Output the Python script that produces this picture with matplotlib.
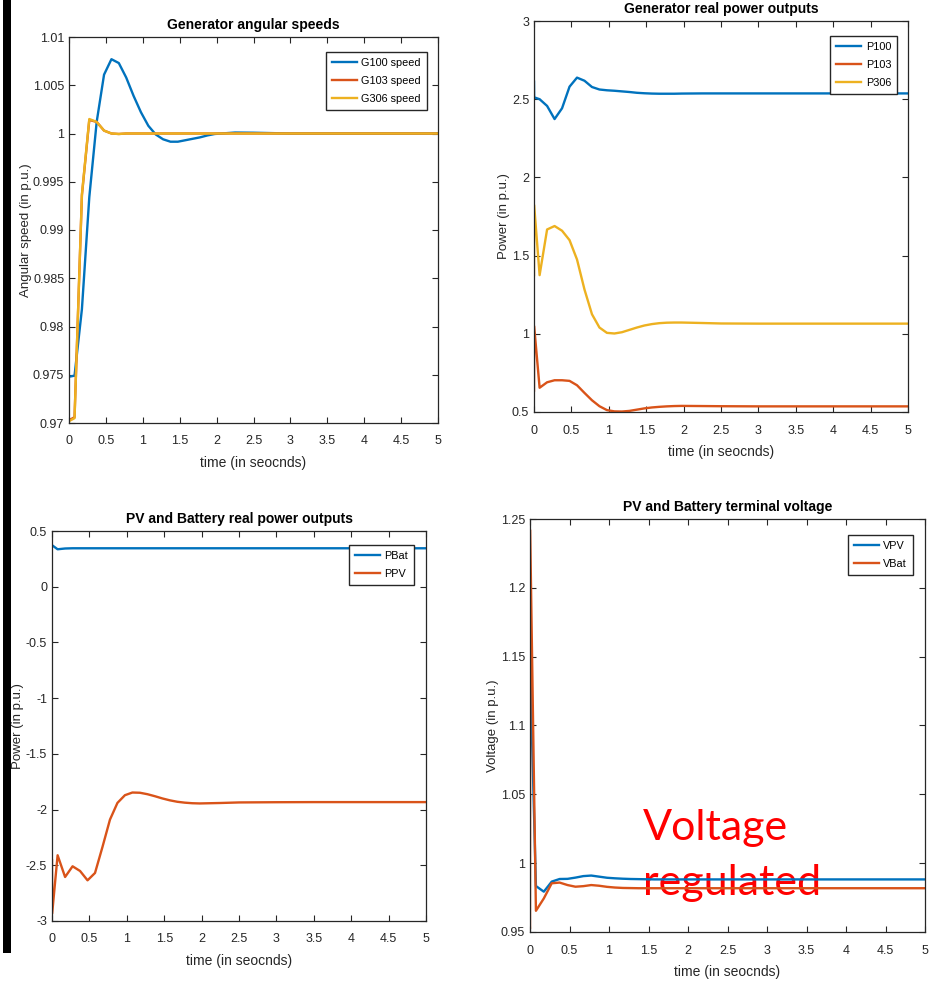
import matplotlib
matplotlib.use("Agg")
import matplotlib.pyplot as plt
from matplotlib.patches import Rectangle

# ---- data -------------------------------------------------------------
t = [0.0, 0.002, 0.075, 0.175, 0.275, 0.375, 0.475, 0.575, 0.675, 0.775,
     0.875, 0.975, 1.075, 1.175, 1.275, 1.375, 1.475, 1.575, 1.675, 1.775,
     1.875, 1.975, 2.25, 2.5, 3.0, 3.5, 4.0, 4.5, 5.0]

g100_speed = [0.9748, 0.9748, 0.9749, 0.9818, 0.9934, 1.0012, 1.0061, 1.0077,
              1.0073, 1.0058, 1.0039, 1.0022, 1.0008, 0.9999, 0.9994, 0.99915,
              0.99915, 0.9993, 0.99945, 0.9996, 0.9998, 0.99995, 1.0001,
              1.00008, 1.0, 1.0, 1.0, 1.0, 1.0]
g103_speed = [0.9703, 0.9703, 0.9706, 0.9936, 1.0014, 1.0012, 1.0003, 1.0,
              0.99995, 1.0, 1.0, 1.0, 1.0, 1.0, 1.0, 1.0, 1.0, 1.0, 1.0, 1.0,
              1.0, 1.0, 1.0, 1.0, 1.0, 1.0, 1.0, 1.0, 1.0]
g306_speed = [0.9702, 0.9702, 0.9705, 0.9937, 1.0015, 1.0012, 1.0003, 1.0,
              0.99995, 1.0, 1.0, 1.0, 1.0, 1.0, 1.0, 1.0, 1.0, 1.0, 1.0, 1.0,
              1.0, 1.0, 1.0, 1.0, 1.0, 1.0, 1.0, 1.0, 1.0]

p100 = [2.612, 2.512, 2.500, 2.457, 2.373, 2.442, 2.580, 2.638, 2.618, 2.578,
        2.562, 2.557, 2.554, 2.550, 2.546, 2.541, 2.538, 2.536, 2.535, 2.535,
        2.535, 2.536, 2.537, 2.537, 2.537, 2.537, 2.537, 2.537, 2.537]
p103 = [0.637, 1.049, 0.655, 0.690, 0.703, 0.703, 0.699, 0.671, 0.622, 0.575,
        0.537, 0.512, 0.504, 0.503, 0.507, 0.515, 0.523, 0.529, 0.533, 0.536,
        0.538, 0.539, 0.538, 0.537, 0.536, 0.536, 0.536, 0.536, 0.536]
p306 = [1.375, 1.823, 1.375, 1.667, 1.689, 1.659, 1.599, 1.475, 1.283, 1.125,
        1.040, 1.006, 1.002, 1.010, 1.025, 1.040, 1.053, 1.062, 1.068, 1.071,
        1.072, 1.072, 1.069, 1.066, 1.065, 1.065, 1.065, 1.065, 1.065]

p_bat = [0.372, 0.372, 0.336, 0.343, 0.345, 0.345, 0.345, 0.345, 0.345, 0.345,
         0.345, 0.345, 0.345, 0.345, 0.345, 0.345, 0.345, 0.345, 0.345, 0.345,
         0.345, 0.345, 0.345, 0.345, 0.345, 0.345, 0.345, 0.345, 0.345]
p_pv = [-2.455, -2.934, -2.410, -2.605, -2.509, -2.551, -2.635, -2.569, -2.335,
        -2.090, -1.940, -1.871, -1.847, -1.849, -1.862, -1.880, -1.900, -1.917,
        -1.930, -1.938, -1.943, -1.945, -1.941, -1.936, -1.934, -1.933, -1.933,
        -1.933, -1.933]

v_pv = [1.143, 1.143, 0.9834, 0.9793, 0.9866, 0.9885, 0.9886, 0.9895, 0.9906,
        0.9910, 0.9902, 0.9894, 0.9890, 0.9887, 0.9885, 0.9884, 0.9883, 0.9882,
        0.9882, 0.9882, 0.9882, 0.9882, 0.9882, 0.9882, 0.9882, 0.9882, 0.9882,
        0.9882, 0.9882]
v_bat = [0.953, 1.242, 0.9654, 0.9744, 0.9854, 0.9859, 0.9841, 0.9829, 0.9833,
         0.9841, 0.9836, 0.9828, 0.9823, 0.9820, 0.9819, 0.9818, 0.9818, 0.9818,
         0.9818, 0.9818, 0.9818, 0.9818, 0.9818, 0.9818, 0.9818, 0.9818, 0.9818,
         0.9818, 0.9818]

x_ticks = [0, 0.5, 1, 1.5, 2, 2.5, 3, 3.5, 4, 4.5, 5]
x_tick_labels = ["0", "0.5", "1", "1.5", "2", "2.5", "3", "3.5", "4", "4.5", "5"]

# ---- styling -------------------------------------------------------------
BLUE, ORANGE, YELLOW = "#0072BD", "#D95319", "#EDB120"
DARK = "#262626"
plt.rcParams["font.family"] = ["Liberation Sans", "DejaVu Sans"]
plt.rcParams["axes.linewidth"] = 0.9
plt.rcParams["axes.edgecolor"] = DARK

W, H = 932, 983
fig = plt.figure(figsize=(W / 100, H / 100), dpi=100)


def make_axes(left, top, right, bottom):
    return fig.add_axes([left / W, 1 - bottom / H, (right - left) / W,
                         (bottom - top) / H])


def style(ax, title, ylabel, yticks, ylabels, ylim, leg_anchor, ylab_x):
    ax.set_xlim(0, 5)
    ax.set_ylim(*ylim)
    ax.set_xticks(x_ticks)
    ax.set_xticklabels(x_tick_labels)
    ax.set_yticks(yticks)
    ax.set_yticklabels(ylabels)
    ax.tick_params(direction="in", length=4, width=0.8, top=True, right=True,
                   labelsize=9, colors=DARK)
    ax.tick_params(axis="x", pad=9)
    ax.tick_params(axis="y", pad=3.5)
    ax.set_title(title, fontsize=10, fontweight="bold", color="black", pad=6)
    ax.set_xlabel("time (in seocnds)", fontsize=10, color=DARK, labelpad=6)
    ax.set_ylabel(ylabel, fontsize=9.5, color=DARK)
    ax.yaxis.set_label_coords(ylab_x, 0.5)
    leg = ax.legend(loc="upper right", bbox_to_anchor=leg_anchor,
                    borderaxespad=0, fontsize=7.8, frameon=True, fancybox=False,
                    framealpha=1, edgecolor=DARK, handlelength=2.3,
                    handletextpad=0.4, labelspacing=0.75, borderpad=0.55)
    leg.get_frame().set_linewidth(1.0)


LW = 1.7

# Generator angular speeds
ax1 = make_axes(69, 37, 438, 423)
ax1.plot(t, g100_speed, color=BLUE, lw=LW, label="G100 speed")
ax1.plot(t, g103_speed, color=ORANGE, lw=LW, label="G103 speed")
ax1.plot(t, g306_speed, color=YELLOW, lw=LW, label="G306 speed")
style(ax1, "Generator angular speeds", "Angular speed (in p.u.)",
      [0.97, 0.975, 0.98, 0.985, 0.99, 0.995, 1.0, 1.005, 1.01],
      ["0.97", "0.975", "0.98", "0.985", "0.99", "0.995", "1", "1.005", "1.01"],
      (0.97, 1.01), (0.970, 0.961), -0.100)

# Generator real power outputs
ax2 = make_axes(534, 21, 908, 412)
ax2.plot(t, p100, color=BLUE, lw=LW, label="P100")
ax2.plot(t, p103, color=ORANGE, lw=LW, label="P103")
ax2.plot(t, p306, color=YELLOW, lw=LW, label="P306")
style(ax2, "Generator real power outputs", "Power (in p.u.)",
      [0.5, 1, 1.5, 2, 2.5, 3], ["0.5", "1", "1.5", "2", "2.5", "3"],
      (0.5, 3), (0.971, 0.962), -0.064)

# PV and battery real power outputs
ax3 = make_axes(52, 531, 426, 921)
ax3.plot(t, p_bat, color=BLUE, lw=LW, label="PBat")
ax3.plot(t, p_pv, color=ORANGE, lw=LW, label="PPV")
style(ax3, "PV and Battery real power outputs", "Power (in p.u.)",
      [-3, -2.5, -2, -1.5, -1, -0.5, 0, 0.5],
      ["-3", "-2.5", "-2", "-1.5", "-1", "-0.5", "0", "0.5"],
      (-3, 0.5), (0.968, 0.964), -0.074)

# PV and battery terminal voltage
ax4 = make_axes(530, 519, 925, 932)
ax4.plot(t, v_pv, color=BLUE, lw=LW, label="VPV")
ax4.plot(t, v_bat, color=ORANGE, lw=LW, label="VBat")
style(ax4, "PV and Battery terminal voltage", "Voltage (in p.u.)",
      [0.95, 1.0, 1.05, 1.1, 1.15, 1.2, 1.25],
      ["0.95", "1", "1.05", "1.1", "1.15", "1.2", "1.25"],
      (0.95, 1.25), (0.970, 0.961), -0.078)

# annotation underneath the curves
for txt, base in (("Voltage", 840), ("regulated", 895)):
    ax4.text(643 / W, 1 - base / H, txt, transform=fig.transFigure,
             fontsize=31, color="#FF0000", family=["Lato", "DejaVu Sans"],
             ha="left", va="baseline", zorder=1)

# black bar along the left edge
fig.add_artist(Rectangle((3 / W, 1 - 953 / H), 8 / W, 953 / H,
                         transform=fig.transFigure, color="black", lw=0))

fig.savefig("out.png", dpi=100)
